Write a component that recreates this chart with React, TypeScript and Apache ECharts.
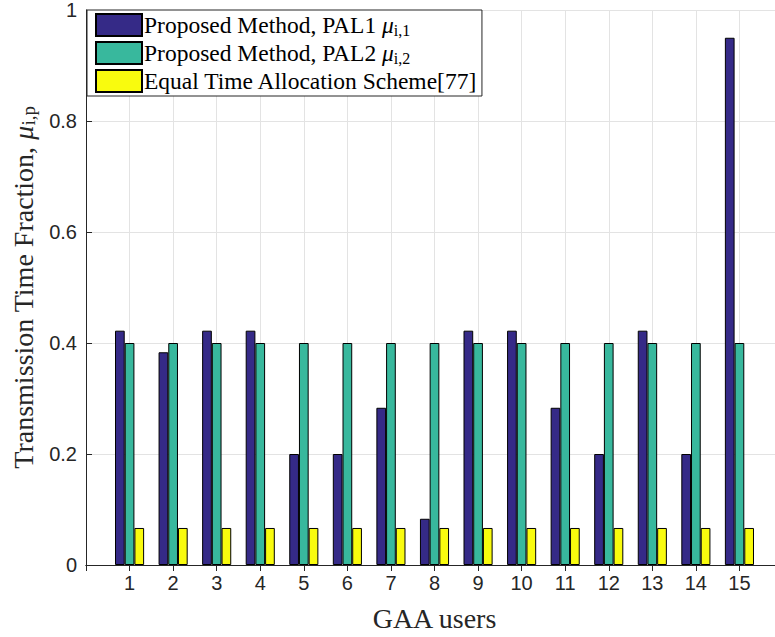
import React, { useEffect, useRef } from "react";
import * as echarts from "echarts";

const users = [1, 2, 3, 4, 5, 6, 7, 8, 9, 10, 11, 12, 13, 14, 15];
const pal1 = [0.4222, 0.3833, 0.4222, 0.4222, 0.2, 0.2, 0.2833, 0.0833, 0.4222, 0.4222, 0.2833, 0.2, 0.4222, 0.2, 0.95];
const pal2 = [0.4, 0.4, 0.4, 0.4, 0.4, 0.4, 0.4, 0.4, 0.4, 0.4, 0.4, 0.4, 0.4, 0.4, 0.4];
const equal = [0.0667, 0.0667, 0.0667, 0.0667, 0.0667, 0.0667, 0.0667, 0.0667, 0.0667, 0.0667, 0.0667, 0.0667, 0.0667, 0.0667, 0.0667];
const seriesNames = [
  "Proposed Method, PAL1",
  "Proposed Method, PAL2",
  "Equal Time Allocation Scheme[77]",
];
const legendSubs = ["i,1", "i,2", ""];
const colors = ["#352a87", "#38b89d", "#f9fb0e"];

const serif = "'Liberation Serif', 'Times New Roman', serif";
const sans = "'Liberation Sans', Arial, Helvetica, sans-serif";
const axisColor = "#262626";

export default function App() {
  const ref = useRef<HTMLDivElement>(null);
  useEffect(() => {
    if (!ref.current) return;
    const chart = echarts.init(ref.current, undefined, { renderer: "svg" });
    const richBase = {
      a: { fontFamily: serif, fontSize: 23.5, color: "#000", lineHeight: 26 },
      m: { fontFamily: serif, fontSize: 23.5, fontStyle: "italic", color: "#000", lineHeight: 26 },
      s: { fontFamily: serif, fontSize: 16, color: "#000", lineHeight: 14, verticalAlign: "bottom" },
    };
    const mk = (vals: number[]) => users.map((u, i) => [u, vals[i]]);
    const datasets = [pal1, pal2, equal];
    chart.setOption({
      animation: false,
      backgroundColor: "#fff",
      grid: { left: 86, top: 10, width: 697, height: 555, containLabel: false, outerBoundsMode: "none" },
      legend: {
        orient: "vertical",
        left: 87,
        top: 10,
        itemWidth: 46,
        itemHeight: 22,
        itemGap: 3,
        padding: [3, 4, 3, 8],
        backgroundColor: "#fff",
        borderColor: axisColor,
        borderWidth: 1,
        borderRadius: 0,
        icon: "rect",
        selectedMode: false,
        formatter: (name: string) => {
          const i = seriesNames.indexOf(name);
          if (legendSubs[i]) return `{a|${name} }{m|μ}{s|${legendSubs[i]}}`;
          return `{a|${name}}`;
        },
        textStyle: { rich: richBase, padding: [0, 0, 0, -3] },
        data: seriesNames,
      },
      xAxis: [
        {
          type: "value",
          min: 0,
          max: 16,
          interval: 1,
          position: "bottom",
          name: "GAA users",
          nameLocation: "middle",
          nameGap: 39,
          nameTextStyle: { fontFamily: serif, fontSize: 28, color: axisColor },
          axisLine: { show: true, lineStyle: { color: axisColor, width: 1 } },
          axisTick: { show: true, inside: true, length: 6, lineStyle: { color: axisColor } },
          axisLabel: {
            fontFamily: sans,
            fontSize: 20,
            color: axisColor,
            margin: 8,
            formatter: (v: number) => (v >= 1 && v <= 15 ? String(v) : ""),
          },
          splitLine: { show: true, lineStyle: { color: "#e3e3e3", width: 1 } },
        },
        {
          type: "value",
          min: 0,
          max: 16,
          interval: 1,
          position: "top",
          axisLine: { show: true, lineStyle: { color: axisColor, width: 1 } },
          axisTick: { show: true, inside: true, length: 6, lineStyle: { color: axisColor } },
          axisLabel: { show: false },
          splitLine: { show: false },
        },
      ],
      yAxis: [
        {
          type: "value",
          min: 0,
          max: 1,
          interval: 0.2,
          position: "left",
          name: "{a|Transmission Time Fraction, }{m|μ}{s|i,p}",
          nameLocation: "middle",
          nameRotate: 90,
          nameGap: 47,
          nameTextStyle: {
            rich: {
              a: { fontFamily: serif, fontSize: 28, color: axisColor, lineHeight: 30 },
              m: { fontFamily: serif, fontSize: 28, fontStyle: "italic", color: axisColor, lineHeight: 30 },
              s: { fontFamily: serif, fontSize: 19, color: axisColor, lineHeight: 16, verticalAlign: "bottom" },
            },
          },
          axisLine: { show: true, lineStyle: { color: axisColor, width: 1 } },
          axisTick: { show: true, inside: true, length: 6, lineStyle: { color: axisColor } },
          axisLabel: { fontFamily: sans, fontSize: 20, color: axisColor, margin: 9 },
          splitLine: { show: true, lineStyle: { color: "#e3e3e3", width: 1 } },
        },
        {
          type: "value",
          min: 0,
          max: 1,
          interval: 0.2,
          position: "right",
          axisLine: { show: true, lineStyle: { color: axisColor, width: 1 } },
          axisTick: { show: false },
          axisLabel: { show: false },
          splitLine: { show: false },
        },
      ],
      series: seriesNames.map((name, k) => ({
        name,
        type: "bar",
        xAxisIndex: 0,
        yAxisIndex: 0,
        barWidth: 9.7,
        barGap: "0%",
        data: mk(datasets[k]),
        itemStyle: { color: colors[k], borderColor: "#000", borderWidth: 1 },
      })),
    });
    return () => chart.dispose();
  }, []);
  return (
    <div style={{ position: "fixed", left: 0, top: 0, width: 775, height: 637, overflow: "hidden", background: "#fff" }}>
      <div ref={ref} style={{ width: 800, height: 637 }} />
    </div>
  );
}
